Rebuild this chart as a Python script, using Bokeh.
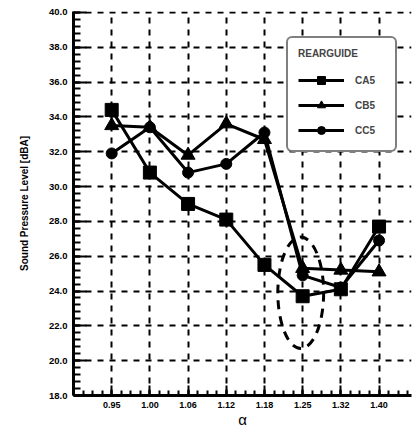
from bokeh.plotting import figure
from bokeh.models import FixedTicker, Range1d, Legend, LegendItem
from bokeh.embed import file_html
from bokeh.resources import INLINE

# ---- data ----
alpha_labels = ["0.95", "1.00", "1.06", "1.12", "1.18", "1.25", "1.32", "1.40"]
ca5 = [34.4, 30.8, 29.0, 28.1, 25.5, 23.7, 24.1, 27.7]
cb5 = [33.5, 33.4, 31.8, 33.6, 32.7, 25.3, 25.2, 25.1]
cc5 = [31.9, 33.4, 30.8, 31.3, 33.1, 24.9, 24.2, 26.9]
y_ticks = [18, 20, 22, 24, 26, 28, 30, 32, 34, 36, 38, 40]

xs = list(range(len(alpha_labels)))
FONT = "Liberation Sans"

p = figure(width=414, height=430, output_backend="svg", toolbar_location=None,
           x_range=Range1d(-1, 7.85), y_range=Range1d(18, 40.05),
           min_border_left=73, min_border_right=3, min_border_top=11, min_border_bottom=34)
p.outline_line_color = None
p.background_fill_color = "white"
p.border_fill_color = "white"

# axes
p.xaxis.ticker = FixedTicker(ticks=xs, minor_ticks=[-1 + 0.25 * i for i in range(36)])
p.xaxis.major_label_overrides = {i: s for i, s in enumerate(alpha_labels)}
p.yaxis.ticker = FixedTicker(ticks=y_ticks, minor_ticks=[18 + 0.4 * i for i in range(56)])
p.yaxis.major_label_overrides = {v: f"{v:.1f}" for v in y_ticks}

for ax in (p.xaxis[0], p.yaxis[0]):
    ax.axis_line_width = 3
    ax.axis_line_color = "black"
    ax.major_tick_line_width = 2
    ax.minor_tick_line_width = 2
    ax.major_tick_line_color = "black"
    ax.minor_tick_line_color = "black"
    ax.major_tick_out = 0
    ax.minor_tick_out = 0
    ax.major_label_text_font = FONT
    ax.major_label_text_font_style = "bold"
    ax.major_label_text_color = "black"
    ax.axis_label_text_font = FONT
    ax.axis_label_text_color = "black"

p.xaxis.major_tick_in = 10
p.xaxis.minor_tick_in = 5
p.yaxis.major_tick_in = 13
p.yaxis.minor_tick_in = 7
p.xaxis.major_label_text_font_size = "9px"
p.yaxis.major_label_text_font_size = "9.5px"
p.xaxis.major_label_standoff = 6
p.yaxis.major_label_standoff = 6

p.xaxis.axis_label = "α"
p.xaxis.axis_label_text_font_size = "15px"
p.xaxis.axis_label_text_font_style = "normal"
p.xaxis.axis_label_standoff = 0
p.yaxis.axis_label = "Sound Pressure Level [dBA]"
p.yaxis.axis_label_text_font_size = "10px"
p.yaxis.axis_label_text_font_style = "bold"
p.yaxis.axis_label_standoff = 16

# grid
for g in (p.xgrid[0], p.ygrid[0]):
    g.grid_line_color = "black"
    g.grid_line_width = 2
    g.grid_line_dash = "6 6"
    g.grid_line_alpha = 1

# circled annotation (dashed ellipse)
p.ellipse(x=4.95, y=23.9, width=1.2, height=6.4, fill_color=None,
          line_color="black", line_width=3, line_dash="9 7")

# series
la = p.line(xs, ca5, line_color="black", line_width=3)
sa = p.scatter(xs, ca5, marker="square", size=13, color="black")
lb = p.line(xs, cb5, line_color="black", line_width=3)
sb = p.scatter(xs, cb5, marker="triangle", size=14, color="black")
lc = p.line(xs, cc5, line_color="black", line_width=3)
sc = p.scatter(xs, cc5, marker="circle", size=11, color="black")

legend = Legend(items=[LegendItem(label="CA5", renderers=[la, sa]),
                       LegendItem(label="CB5", renderers=[lb, sb]),
                       LegendItem(label="CC5", renderers=[lc, sc])],
                location=(213, 243))
legend.title = "REARGUIDE"
legend.title_text_font = FONT
legend.title_text_font_style = "bold"
legend.title_text_font_size = "10px"
legend.title_standoff = 11
legend.label_text_font = FONT
legend.label_text_font_style = "bold"
legend.label_text_font_size = "10px"
legend.glyph_width = 46
legend.glyph_height = 20
legend.spacing = 5
legend.padding = 10
legend.label_standoff = 11
legend.label_width = 30
legend.border_line_color = "black"
legend.border_line_width = 2
legend.background_fill_alpha = 1
legend.border_radius = 6
p.add_layout(legend, "center")

open("out.html", "w").write(file_html(p, INLINE))
